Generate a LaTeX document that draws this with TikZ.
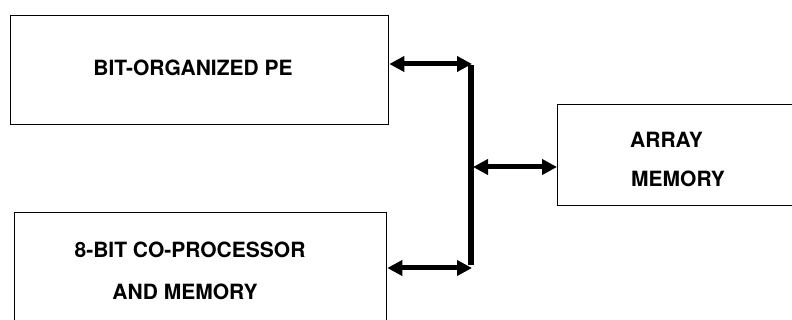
\documentclass[tikz,border=0pt]{standalone}
\usepackage{fontspec}
\setmainfont{TeX Gyre Heros}
\usetikzlibrary{arrows.meta}
\begin{document}
\begin{tikzpicture}[x=1pt,y=-1pt,
  box/.style={draw,line width=1.3pt,rectangle,anchor=north west,inner sep=0pt},
  lbl/.style={font=\fontsize{21}{25}\selectfont\bfseries,inner sep=0pt,anchor=center},
  dbl/.style={line width=5pt,{Triangle[length=15pt,width=15pt]}-{Triangle[length=15pt,width=15pt]}},
  bus/.style={line width=5.5pt}]
\useasboundingbox (0,0) rectangle (792,320);
\clip (0,0) rectangle (792,320);
\node[box,minimum width=378pt,minimum height=109pt] (b1) at (10,15) {};
\node[box,minimum width=372pt,minimum height=130pt] (b2) at (14,212) {};
\node[box,minimum width=250pt,minimum height=101pt] (b3) at (557,104) {};
\node[lbl] (t1) at (193,68) {BIT-ORGANIZED PE};
\node[lbl] (t2a) at (190,250) {8-BIT CO-PROCESSOR};
\node[lbl] (t2b) at (185,292) {AND MEMORY};
\node[lbl,anchor=west] (t3a) at (630,140) {ARRAY};
\node[lbl,anchor=west] (t3b) at (631,179) {MEMORY};
\coordinate (top) at (471,64);
\coordinate (bot) at (471,268);
\coordinate (mid) at (471,167);
\draw[bus] ([yshift=-1pt]top) -- ([yshift=2.5pt]bot);
\draw[dbl] (b1.east |- top) -- ([xshift=1pt]top);
\draw[dbl] (b2.east |- bot) -- ([xshift=1pt]bot);
\draw[dbl] ([xshift=2pt]mid) -- (b3.west |- mid);
\end{tikzpicture}
\end{document}
